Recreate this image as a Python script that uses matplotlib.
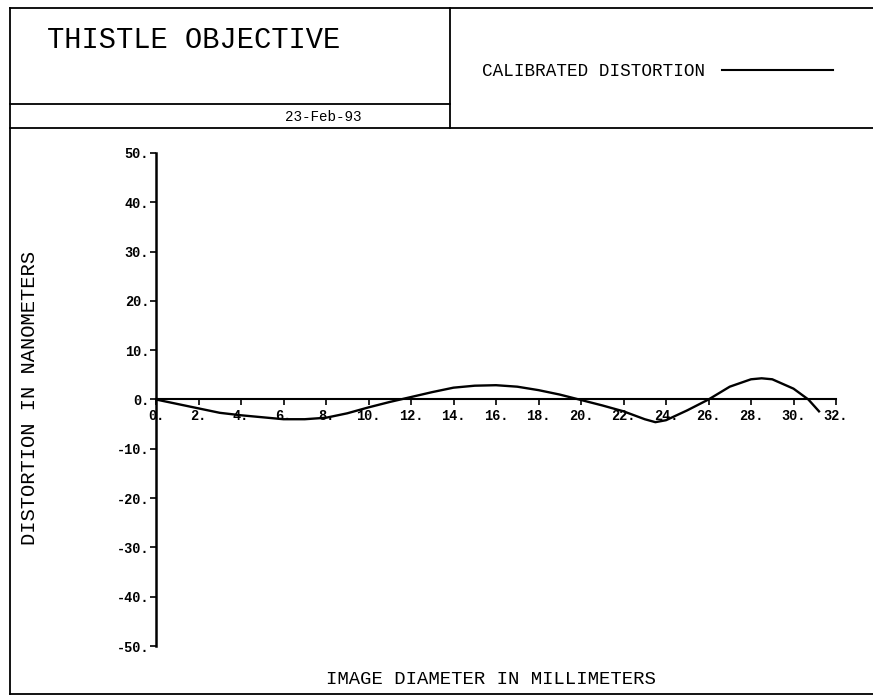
import numpy as np
import matplotlib.pyplot as plt
from matplotlib.lines import Line2D

# image diameter (mm) and calibrated distortion (nm)
diameter = [0, 1, 2, 3, 4, 5, 6, 7, 8, 9, 10, 11, 12, 13, 14, 15, 16, 17, 18, 19,
            20, 21, 22, 23, 23.5, 24, 25, 26, 27, 28, 28.5, 29, 30, 30.7, 31.2]
distortion = [0, -0.9, -1.8, -2.7, -3.2, -3.6, -4.0, -4.0, -3.7, -2.8, -1.6, -0.5,
              0.5, 1.5, 2.4, 2.8, 2.9, 2.6, 1.9, 1.0, -0.1, -1.2, -2.4, -4.0, -4.6,
              -4.2, -2.2, 0.0, 2.6, 4.1, 4.3, 4.1, 2.2, 0.0, -2.4]

xticks = list(range(0, 34, 2))
xticklabels = ['%d.' % v for v in xticks]
yticks = list(range(-50, 60, 10))
yticklabels = ['%d.' % v for v in yticks]

title = 'THISTLE OBJECTIVE'
date_str = '23-Feb-93'
legend_label = 'CALIBRATED DISTORTION'

W, H = 873, 696
plt.rcParams['font.family'] = ['Liberation Mono', 'DejaVu Sans Mono']
fig = plt.figure(figsize=(W / 100, H / 100), dpi=100)

# frame and header boxes, drawn in pixel coordinates
frame = fig.add_axes([0, 0, 1, 1])
frame.set_xlim(0, W)
frame.set_ylim(H, 0)
frame.axis('off')
lw = 1.3
frame.plot([10, 10], [8, 694], color='k', lw=lw)
frame.plot([10, W], [8, 8], color='k', lw=lw)
frame.plot([10, W], [694, 694], color='k', lw=lw)
frame.plot([10, W], [128, 128], color='k', lw=lw)
frame.plot([450, 450], [8, 128], color='k', lw=lw)
frame.plot([10, 450], [104, 104], color='k', lw=lw)

frame.text(47, 40, title, fontsize=20.7, va='center', ha='left')
frame.text(362, 117, date_str, fontsize=10.3, va='center', ha='right')
frame.text(482, 71, legend_label, fontsize=12.7, va='center', ha='left')
frame.plot([722, 833], [70, 70], color='k', lw=1.5)
frame.text(30, 398, 'DISTORTION IN NANOMETERS', fontsize=14.8, rotation=90,
           va='center', ha='center')
frame.text(491, 680, 'IMAGE DIAMETER IN MILLIMETERS', fontsize=13.6,
           va='center', ha='center')

# plotting area
x0, x1 = 156, 836
y0, y1 = 153, 646
ax = fig.add_axes([x0 / W, 1 - y1 / H, (x1 - x0) / W, (y1 - y0) / H])
ax.patch.set_alpha(0)
ax.plot(diameter, distortion, color='k', lw=1.7, solid_joinstyle='round')
ax.set_xlim(0, 32)
ax.set_ylim(-50, 50)

for s in ['top', 'right']:
    ax.spines[s].set_visible(False)
ax.spines['bottom'].set_position(('data', 0))
ax.spines['left'].set_linewidth(1.8)
ax.spines['bottom'].set_linewidth(1.5)

ax.set_xticks(xticks)
ax.set_xticklabels(xticklabels, fontsize=9.8, fontweight='bold')
ax.set_yticks(yticks)
ax.set_yticklabels(yticklabels, fontsize=9.8, fontweight='bold')
ax.tick_params(axis='x', direction='out', length=4, width=1.2, pad=3)
ax.tick_params(axis='y', direction='out', length=4, width=1.2, pad=1)

fig.savefig('out.png', dpi=100)
